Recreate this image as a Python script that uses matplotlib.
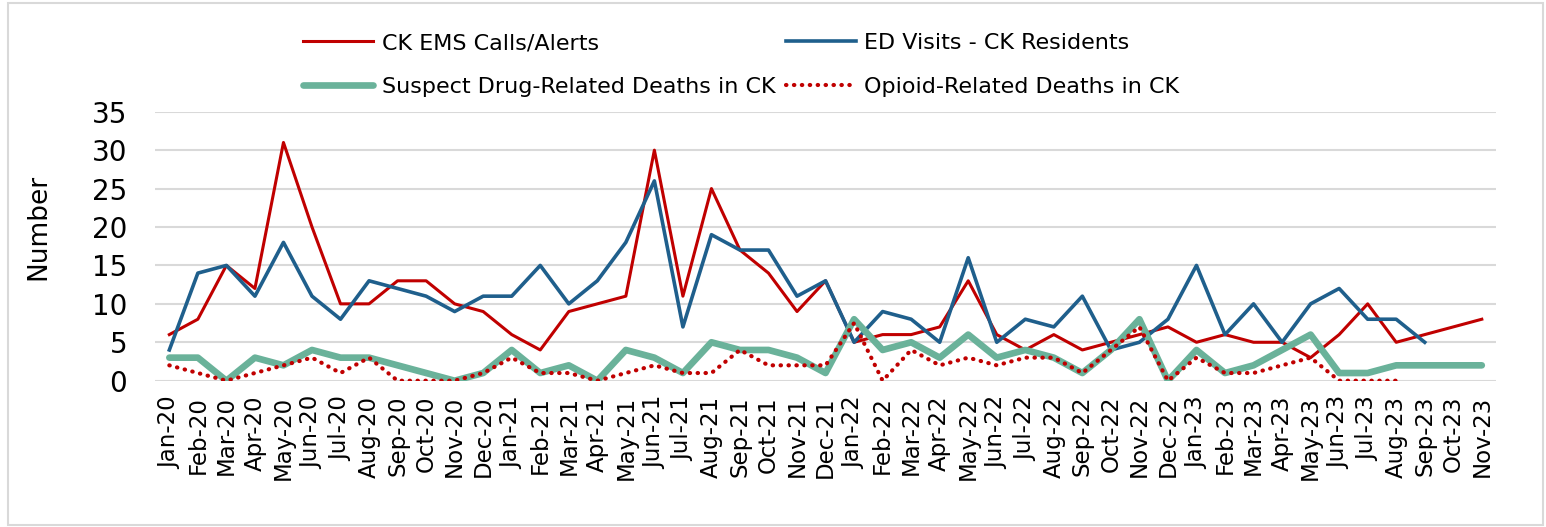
import numpy as np
import matplotlib
matplotlib.use("Agg")
import matplotlib.pyplot as plt
from matplotlib.patches import Rectangle

nan = np.nan

months = ["Jan-20", "Feb-20", "Mar-20", "Apr-20", "May-20", "Jun-20", "Jul-20", "Aug-20",
          "Sep-20", "Oct-20", "Nov-20", "Dec-20",
          "Jan-21", "Feb-21", "Mar-21", "Apr-21", "May-21", "Jun-21", "Jul-21", "Aug-21",
          "Sep-21", "Oct-21", "Nov-21", "Dec-21",
          "Jan-22", "Feb-22", "Mar-22", "Apr-22", "May-22", "Jun-22", "Jul-22", "Aug-22",
          "Sep-22", "Oct-22", "Nov-22", "Dec-22",
          "Jan-23", "Feb-23", "Mar-23", "Apr-23", "May-23", "Jun-23", "Jul-23", "Aug-23",
          "Sep-23", "Oct-23", "Nov-23"]

ems_calls = [6, 8, 15, 12, 31, 20, 10, 10, 13, 13, 10, 9,
             6, 4, 9, 10, 11, 30, 11, 25, 17, 14, 9, 13,
             5, 6, 6, 7, 13, 6, 4, 6, 4, 5, 6, 7,
             5, 6, 5, 5, 3, 6, 10, 5, 6, 7, 8]

ed_visits = [4, 14, 15, 11, 18, 11, 8, 13, 12, 11, 9, 11,
             11, 15, 10, 13, 18, 26, 7, 19, 17, 17, 11, 13,
             5, 9, 8, 5, 16, 5, 8, 7, 11, 4, 5, 8,
             15, 6, 10, 5, 10, 12, 8, 8, 5, nan, nan]

drug_deaths = [3, 3, 0, 3, 2, 4, 3, 3, 2, 1, 0, 1,
               4, 1, 2, 0, 4, 3, 1, 5, 4, 4, 3, 1,
               8, 4, 5, 3, 6, 3, 4, 3, 1, 4, 8, 0,
               4, 1, 2, 4, 6, 1, 1, 2, 2, 2, 2]

opioid_deaths = [2, 1, 0, 1, 2, 3, 1, 3, 0, 0, 0, 1,
                 3, 1, 1, 0, 1, 2, 1, 1, 4, 2, 2, 2,
                 7.5, 0, 4, 2, 3, 2, 3, 3, 1, 4, 7, 0,
                 3, 1, 1, 2, 3, 0, 0, 0, nan, nan, nan]

plt.rcParams['font.family'] = ['DejaVu Sans']

fig = plt.figure(figsize=(15.46, 5.27), dpi=100)
ax = fig.add_axes([0.1003, 0.2776, 0.8674, 0.5104])

x = np.arange(len(months))
l1, = ax.plot(x, ems_calls, color="#C00000", lw=2.2, label="CK EMS Calls/Alerts", zorder=3)
l2, = ax.plot(x, ed_visits, color="#1F5F8C", lw=2.6, label="ED Visits - CK Residents", zorder=4)
l3, = ax.plot(x, drug_deaths, color="#6AB29A", lw=4.8, label="Suspect Drug-Related Deaths in CK",
              zorder=5, solid_capstyle="round")
l4, = ax.plot(x, opioid_deaths, color="#C00000", lw=3.0, linestyle=(0, (0.1, 1.8)),
              dash_capstyle="round", label="Opioid-Related Deaths in CK", zorder=6)

ax.set_xlim(-0.5, len(months) - 0.5)
ax.set_ylim(0, 35)
ax.set_yticks(range(0, 36, 5))
ax.set_xticks(x)
ax.set_xticklabels(months, rotation=90, fontsize=16.5)
ax.tick_params(axis="x", length=0, pad=11)
ax.tick_params(axis="y", length=0, pad=20, labelsize=20)
ax.grid(axis="y", color="#D9D9D9", lw=1.5, zorder=0)
ax.set_axisbelow(True)
for s in ax.spines.values():
    s.set_visible(False)

ax.set_ylabel("Number", fontsize=19)
ax.yaxis.set_label_coords(-0.077, 0.571)

fig.legend(handles=[l1, l3, l2, l4], ncol=2, loc="upper left",
           bbox_to_anchor=(303 / 1546, 0.937), frameon=False, fontsize=16,
           handlelength=3.15, handletextpad=0.4, columnspacing=0.45,
           labelspacing=1.05, borderpad=0, borderaxespad=0)

fig.patches.append(Rectangle((8 / 1546, 2 / 527), 1535 / 1546, 522 / 527, transform=fig.transFigure,
                             fill=False, edgecolor="#D9D9D9", lw=1.5))

fig.savefig("out.png", dpi=100)
